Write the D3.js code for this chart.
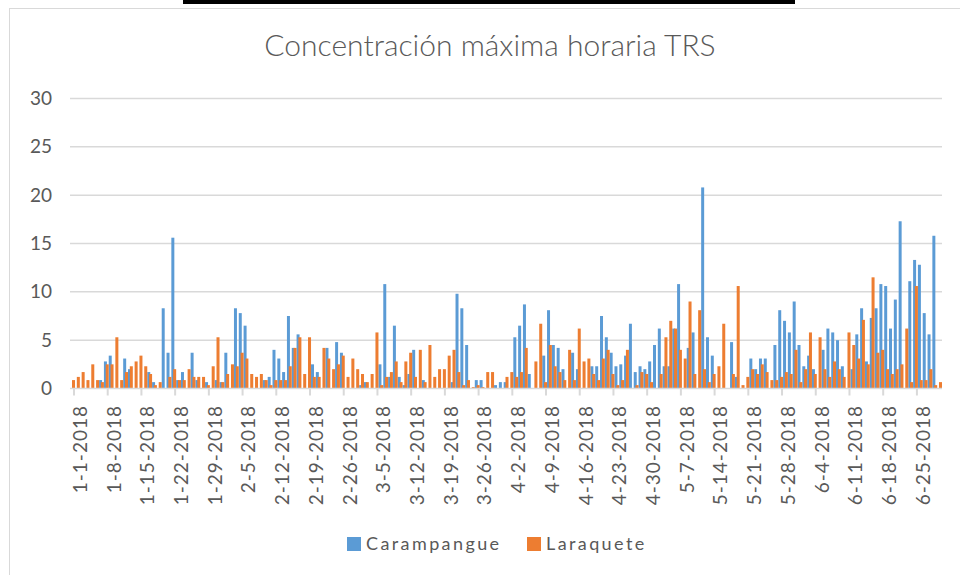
<!DOCTYPE html>
<html>
<head>
<meta charset="utf-8">
<title>TRS</title>
<script src="https://d3js.org/d3.v7.min.js"></script>
<style>
  body { margin: 0; background: #fff; }
  svg { display: block; font-family: Lato, "Open Sans", sans-serif; }
</style>
</head>
<body>
<svg id="chart"></svg>
<script>
const width = 960;
const height = 575;

// daily max hourly TRS, 1 Jan 2018 - 30 Jun 2018 (0 = no bar)
const carampangue = [
  0, 0, 0, 0, 0, 0, 0.87, 2.8, 3.4, 0,
  0, 3.1, 2.0, 0, 0, 0, 1.7, 0.66, 0, 8.3,
  3.7, 15.6, 0.87, 1.7, 0, 3.7, 0.87, 0, 0.66, 0,
  0.87, 0.66, 3.7, 0, 8.3, 7.8, 6.5, 0, 0, 0,
  0.87, 1.2, 4.0, 3.1, 1.7, 7.5, 4.2, 5.6, 0, 0,
  2.5, 1.7, 0, 4.2, 0, 4.8, 3.7, 0, 0, 0,
  0.35, 0.66, 0, 0, 2.5, 10.8, 1.2, 6.5, 1.2, 0.35,
  1.5, 4.0, 0, 0.87, 0, 0, 0, 0, 0, 0.66,
  9.8, 8.3, 4.5, 0, 0.87, 0.87, 0, 0, 0.35, 0.66,
  0.66, 0, 5.3, 6.5, 8.7, 1.5, 0, 0, 3.4, 8.1,
  4.5, 4.2, 2.0, 0, 3.7, 2.0, 0, 0, 2.3, 2.3,
  7.5, 5.3, 3.7, 2.3, 2.5, 3.4, 6.7, 1.7, 2.3, 2.0,
  2.8, 4.5, 6.2, 2.3, 2.3, 6.2, 10.8, 0, 4.2, 5.8,
  0, 20.8, 5.3, 3.4, 0, 0, 0, 4.8, 1.2, 0,
  0, 3.1, 2.0, 3.1, 3.1, 0, 4.5, 8.1, 7.0, 5.8,
  9.0, 4.5, 2.3, 3.4, 2.0, 0, 4.0, 6.2, 5.8, 5.0,
  2.3, 0, 2.0, 5.6, 8.3, 2.8, 7.3, 8.3, 10.8, 10.6,
  6.2, 9.2, 17.3, 0, 11.1, 13.3, 12.8, 7.8, 5.6, 15.8,
  0
];

const laraquete = [
  0.87, 1.2, 1.7, 0.87, 2.5, 0.87, 0.66, 2.5, 2.5, 5.3,
  0.87, 1.7, 2.3, 2.8, 3.4, 2.3, 1.5, 0.35, 0.66, 0,
  1.2, 2.0, 0.87, 0.87, 2.0, 1.2, 1.2, 1.2, 0.35, 2.3,
  5.3, 0.66, 1.5, 2.5, 2.3, 3.7, 3.1, 1.5, 1.2, 1.5,
  0.87, 0.35, 0.87, 0.87, 0.87, 2.3, 4.2, 5.3, 1.5, 5.3,
  1.2, 1.2, 4.2, 3.1, 2.0, 2.5, 3.4, 1.2, 3.1, 2.0,
  1.5, 0.66, 1.5, 5.8, 0.35, 1.2, 1.7, 2.8, 0.66, 2.8,
  3.7, 1.2, 4.0, 0.66, 4.5, 1.2, 2.0, 2.0, 3.4, 4.0,
  1.7, 0.35, 0.87, 0.14, 0.35, 0.14, 1.7, 1.7, 0, 0,
  1.2, 1.7, 1.2, 1.7, 4.2, 0, 2.8, 6.7, 0.66, 4.5,
  2.3, 1.7, 0.87, 4.0, 0.87, 6.2, 2.8, 3.1, 1.5, 0.87,
  3.1, 4.0, 1.5, 0.35, 0.87, 4.0, 0, 0.35, 1.7, 1.5,
  0.66, 0, 1.5, 5.3, 7.0, 6.2, 4.0, 3.1, 9.0, 1.5,
  8.1, 2.0, 0.66, 1.5, 2.3, 6.7, 0, 1.5, 10.6, 0.35,
  1.2, 2.0, 1.5, 2.5, 1.7, 0.87, 0.87, 1.2, 1.7, 1.5,
  4.0, 0.66, 2.0, 5.8, 1.5, 5.3, 2.0, 1.2, 2.8, 2.0,
  1.2, 5.8, 4.5, 3.1, 7.1, 2.5, 11.5, 3.7, 4.0, 2.0,
  1.5, 2.0, 2.5, 6.2, 0.66, 10.6, 0.87, 0.87, 2.0, 0.35,
  0.66
];

const seriesNames = ["Carampangue", "Laraquete"];
const seriesColors = ["#5B9BD5", "#ED7D31"];
const yTicks = [0, 5, 10, 15, 20, 25, 30];
const tickLabels = [
  "1-1-2018", "1-8-2018", "1-15-2018", "1-22-2018", "1-29-2018", "2-5-2018",
  "2-12-2018", "2-19-2018", "2-26-2018", "3-5-2018", "3-12-2018", "3-19-2018",
  "3-26-2018", "4-2-2018", "4-9-2018", "4-16-2018", "4-23-2018", "4-30-2018",
  "5-7-2018", "5-14-2018", "5-21-2018", "5-28-2018", "6-4-2018", "6-11-2018",
  "6-18-2018", "6-25-2018"
];

const days = d3.range(carampangue.length);

const svg = d3.select("#chart")
  .attr("width", width)
  .attr("height", height);

// chart area frame + top rule
svg.append("rect")
  .attr("x", 9.5).attr("y", 8.5)
  .attr("width", 960).attr("height", 600)
  .attr("fill", "#fff")
  .attr("stroke", "#d9d9d9");
svg.append("rect")
  .attr("x", 183).attr("y", 0)
  .attr("width", 612).attr("height", 4)
  .attr("fill", "#000");

svg.append("text")
  .attr("x", 490).attr("y", 56)
  .attr("text-anchor", "middle")
  .attr("fill", "#595959")
  .style("font-size", "30px")
  .style("font-weight", 300)
  .text("Concentración máxima horaria TRS");

const x = d3.scaleBand()
  .domain(days)
  .range([70.2, 942])
  .padding(0);

const y = d3.scaleLinear()
  .domain([0, 30])
  .range([388.5, 98.5]);

const bw = x.bandwidth();

// gridlines
svg.append("g")
  .selectAll("line")
  .data(yTicks.filter(d => d > 0))
  .join("line")
  .attr("x1", 70).attr("x2", 942)
  .attr("y1", d => y(d)).attr("y2", d => y(d))
  .attr("stroke", "#d9d9d9")
  .attr("stroke-width", 1.5);

// y labels
svg.append("g")
  .selectAll("text")
  .data(yTicks)
  .join("text")
  .attr("x", 52)
  .attr("y", d => y(d))
  .attr("dy", "0.35em")
  .attr("text-anchor", "end")
  .attr("fill", "#595959")
  .style("font-size", "19px")
  .text(d => d);

// bars: blue first, orange overlaps on top
svg.append("g")
  .selectAll("rect")
  .data(days.filter(i => carampangue[i] > 0))
  .join("rect")
  .attr("x", i => x(i))
  .attr("width", bw * 0.62)
  .attr("y", i => y(carampangue[i]))
  .attr("height", i => y(0) - y(carampangue[i]))
  .attr("fill", seriesColors[0]);

svg.append("g")
  .selectAll("rect")
  .data(days.filter(i => laraquete[i] > 0))
  .join("rect")
  .attr("x", i => x(i) + bw * 0.375)
  .attr("width", bw * 0.625)
  .attr("y", i => y(laraquete[i]))
  .attr("height", i => y(0) - y(laraquete[i]))
  .attr("fill", seriesColors[1]);

// x axis line and ticks
svg.append("line")
  .attr("x1", 70).attr("x2", 942)
  .attr("y1", y(0)).attr("y2", y(0))
  .attr("stroke", "#d9d9d9")
  .attr("stroke-width", 1.5);

const tickDays = tickLabels.map((d, k) => k * 7);

svg.append("g")
  .selectAll("line")
  .data(tickDays)
  .join("line")
  .attr("x1", i => x(i) + 3.8).attr("x2", i => x(i) + 3.8)
  .attr("y1", y(0)).attr("y2", y(0) + 7)
  .attr("stroke", "#d9d9d9")
  .attr("stroke-width", 2);

svg.append("g")
  .selectAll("text")
  .data(tickDays)
  .join("text")
  .attr("transform", i => `translate(${x(i) + 10},405) rotate(-90)`)
  .attr("dy", "0.35em")
  .attr("text-anchor", "end")
  .attr("fill", "#595959")
  .style("font-size", "19px")
  .style("letter-spacing", "1px")
  .text((i, k) => tickLabels[k]);

// legend
const legendX = [347, 527];
const legend = svg.append("g")
  .selectAll("g")
  .data(seriesNames)
  .join("g")
  .attr("transform", (d, i) => `translate(${legendX[i]},537)`);

legend.append("rect")
  .attr("width", 14).attr("height", 14)
  .attr("fill", (d, i) => seriesColors[i]);

legend.append("text")
  .attr("x", 19).attr("y", 7)
  .attr("dy", "0.35em")
  .attr("fill", "#595959")
  .style("font-size", "18px")
  .style("letter-spacing", "2.4px")
  .text(d => d);
</script>
</body>
</html>
